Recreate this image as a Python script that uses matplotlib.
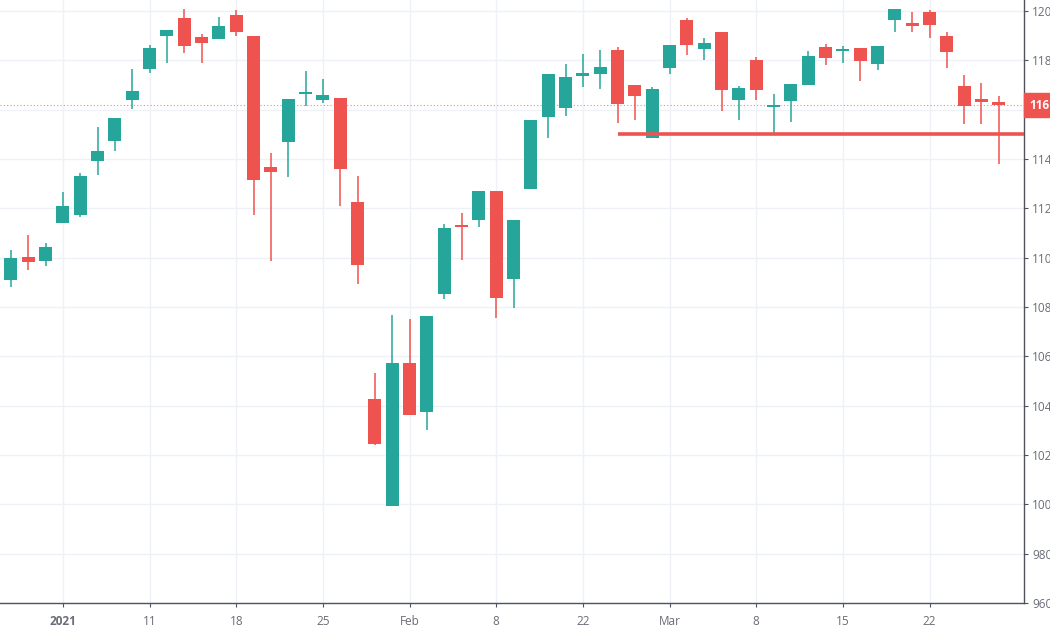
import numpy as np
import matplotlib
matplotlib.use('Agg')
from matplotlib import pyplot as plt

plt.rcParams['font.family'] = ['Open Sans', 'DejaVu Sans']

# 일봉 데이터 (시가, 고가, 저가, 종가) - 그림에서 읽은 값
opens = [1095.5, 1090.8, 1100.3, 1098.8, 1114.0, 1117.1, 1139.3, 1147.4, 1164.0, 1176.4,
         1190.0, 1197.2, 1189.5, 1188.5, 1198.5, 1189.8, 1136.6, 1147.0, 1166.5, 1164.1,
         1164.9, 1122.7, 1042.5, 999.3, 1057.4, 1037.5, 1085.4, 1113.2, 1115.1, 1127.2,
         1091.5, 1127.8, 1157.1, 1160.6, 1173.6, 1174.6, 1184.2, 1169.9, 1148.7, 1176.8,
         1196.4, 1184.5, 1191.5, 1164.0, 1180.3, 1160.9, 1163.7, 1170.0, 1185.3, 1183.7,
         1184.9, 1178.4, 1196.4, 1195.3, 1199.7, 1190.0, 1169.4, 1164.5, 1162.9]
highs = [1097.0, 1103.0, 1109.3, 1105.9, 1126.8, 1134.5, 1152.9, 1156.6, 1176.4, 1186.2,
         1192.3, 1200.7, 1190.6, 1197.4, 1200.4, 1189.8, 1142.6, 1164.3, 1175.8, 1172.3,
         1164.9, 1133.2, 1053.3, 1076.9, 1075.2, 1076.2, 1113.6, 1118.3, 1127.2, 1127.2,
         1115.4, 1155.9, 1174.4, 1178.4, 1182.6, 1184.1, 1185.5, 1169.9, 1169.1, 1186.2,
         1197.0, 1188.9, 1191.5, 1169.4, 1181.3, 1166.3, 1170.3, 1183.8, 1186.5, 1186.0,
         1184.9, 1186.0, 1200.7, 1199.5, 1200.3, 1191.4, 1174.1, 1170.9, 1165.6]
lows = [1089.0, 1088.1, 1095.1, 1096.5, 1114.0, 1116.5, 1133.6, 1143.4, 1160.3, 1175.0,
        1179.1, 1182.9, 1178.8, 1188.5, 1189.9, 1117.1, 1098.5, 1132.7, 1161.3, 1162.6,
        1121.1, 1089.4, 1023.9, 999.3, 1036.2, 1030.1, 1083.3, 1099.2, 1112.4, 1075.7,
        1079.5, 1127.8, 1148.7, 1157.5, 1169.1, 1168.3, 1154.5, 1155.9, 1148.7, 1174.4,
        1182.2, 1180.2, 1159.5, 1155.6, 1164.0, 1150.5, 1154.9, 1170.0, 1178.1, 1178.8,
        1171.7, 1176.1, 1191.6, 1191.6, 1188.9, 1177.0, 1154.3, 1154.3, 1137.9]
closes = [1091.0, 1099.9, 1098.1, 1104.5, 1121.1, 1132.9, 1143.3, 1156.6, 1167.7, 1184.9,
          1192.3, 1185.8, 1187.2, 1193.9, 1191.6, 1131.3, 1134.7, 1164.3, 1166.8, 1165.9,
          1136.0, 1097.2, 1024.6, 1057.4, 1036.2, 1076.2, 1112.0, 1112.6, 1127.2, 1083.8,
          1115.4, 1155.9, 1174.4, 1173.3, 1175.0, 1177.4, 1162.2, 1165.6, 1168.4, 1186.2,
          1186.4, 1186.9, 1168.1, 1168.7, 1168.0, 1161.9, 1170.3, 1181.8, 1181.1, 1184.5,
          1179.8, 1186.0, 1200.7, 1193.9, 1194.2, 1183.3, 1161.5, 1163.0, 1161.8]

# x축 날짜 라벨 (봉 번호 기준)
tick_idx = [4, 9, 14, 19, 24, 29, 34, 39, 44, 49, 54]
tick_text = ['2021', '11', '18', '25', 'Feb', '8', '22', 'Mar', '8', '15', '22']
y_ticks = [960, 980, 1000, 1020, 1040, 1060, 1080, 1100, 1120, 1140, 1160, 1180, 1200]

support_level = 1150.0
support_start = 36
last_price = closes[-1]

UP = '#26a69a'
DOWN = '#ef5350'
GRID = '#eef1f6'
AXIS = '#50535e'
TEXT = '#6a6d78'

fig = plt.figure(figsize=(10.5, 6.3), dpi=100)
ax = fig.add_axes([0.0, 0.0429, 0.9752, 0.9571])

x = np.arange(len(opens))
o = np.array(opens)
c = np.array(closes)
colors = [UP if cc >= oo else DOWN for oo, cc in zip(o, c)]

# 심지 (고가-저가)
ax.vlines(x, lows, highs, colors=colors, linewidth=1.1, zorder=2)
# 몸통 (시가-종가)
bottom = np.minimum(o, c)
height = np.maximum(np.abs(c - o), 0.7)
ax.bar(x, height, bottom=bottom, width=0.75, color=colors, linewidth=0, zorder=3)

# 지지선
ax.hlines(support_level, support_start, len(opens) + 5, colors=DOWN,
          linewidth=2.6, zorder=4)
# 현재가 점선
ax.axhline(last_price, color=DOWN, alpha=0.7, linestyle=(0, (1, 2)),
           linewidth=0.8, zorder=1)

ax.set_xlim(0.37, 59.45)
ax.set_ylim(960, 1204.45)

ax.set_xticks(tick_idx)
ax.set_xticklabels(tick_text)
ax.get_xticklabels()[0].set_fontweight('bold')
ax.set_yticks(y_ticks)
ax.set_yticklabels([str(v) for v in y_ticks])
ax.yaxis.tick_right()

ax.grid(True, color=GRID, linewidth=1.0, zorder=0)
ax.set_axisbelow(True)
ax.tick_params(axis='both', colors=AXIS, labelcolor=TEXT, labelsize=8.5,
               length=3, width=0.8)
ax.tick_params(axis='x', pad=6)
ax.tick_params(axis='y', pad=3)

for side in ['top', 'left']:
    ax.spines[side].set_visible(False)
for side in ['bottom', 'right']:
    ax.spines[side].set_color(AXIS)
    ax.spines[side].set_linewidth(1.0)

# 오른쪽 현재가 라벨
ax.annotate('%.1f' % last_price, xy=(1.0, last_price), xycoords=('axes fraction', 'data'),
            xytext=(4, 0), textcoords='offset points', va='center', ha='left',
            fontsize=8.5, fontweight='bold', color='white', zorder=10,
            annotation_clip=False,
            bbox=dict(boxstyle='square,pad=0.45', fc=DOWN, ec=DOWN))

plt.savefig('out.png', dpi=100)
